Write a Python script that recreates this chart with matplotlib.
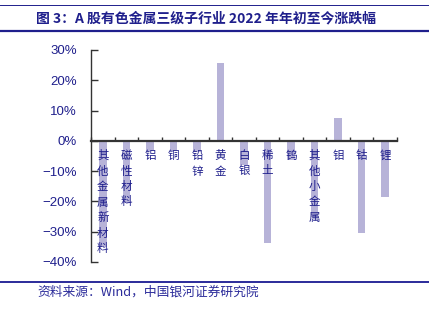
import matplotlib
matplotlib.use("Agg")
import matplotlib.pyplot as plt
from matplotlib.lines import Line2D
import matplotlib.transforms as mtransforms

categories = ["其他金属新材料", "磁性材料", "铝", "铜", "铅锌", "黄金", "白银",
              "稀土", "钨", "其他小金属", "钼", "钴", "锂"]
values = [-35.0, -20.5, -3.5, -3.3, -3.8, 25.8, -8.0, -33.8, -6.3, -25.0, 7.6, -30.5, -18.7]
yticks = [30, 20, 10, 0, -10, -20, -30, -40]
ytick_labels = ["30%", "20%", "10%", "0%", "−10%", "−20%", "−30%", "−40%"]
title = "图 3：A 股有色金属三级子行业 2022 年年初至今涨跌幅"
source = "资料来源：Wind，中国银河证券研究院"

plt.rcParams['font.family'] = ['Noto Sans CJK SC', 'DejaVu Sans']
navy = "#1f1f8c"
bar_color = "#b7b3d8"

fig = plt.figure(figsize=(4.29, 3.11), dpi=100)
ax = fig.add_axes([91/429, 1-262/311, (397-91)/429, (262-50)/311])

x = list(range(len(categories)))
ax.bar(x, values, width=0.32, color=bar_color, zorder=2)
ax.set_xlim(-0.5, len(categories) - 0.5)
ax.set_ylim(-40, 30)

ax.set_yticks(yticks)
ax.set_yticklabels(ytick_labels, fontfamily=['Liberation Sans'], fontsize=9.5, color=navy)
ax.tick_params(axis='y', direction='in', length=5, width=1, color="#333333", pad=10)

ax.set_xticks([i + 0.5 for i in range(-1, len(categories))], minor=False)
ax.set_xticklabels([])
ax.tick_params(axis='x', direction='in', length=3, width=1, color="#333333")

for s in ['top', 'right']:
    ax.spines[s].set_visible(False)
ax.spines['left'].set_color("#333333")
ax.spines['left'].set_linewidth(1)
ax.spines['bottom'].set_position(('data', 0))
ax.spines['bottom'].set_color("#333333")
ax.spines['bottom'].set_linewidth(1.6)
ax.spines['bottom'].set_zorder(3)

trans = mtransforms.blended_transform_factory(ax.transData, fig.transFigure)
for i, lab in enumerate(categories):
    ax.text(i, 1 - 149/311, "\n".join(lab), transform=trans, ha='center', va='top',
            fontsize=8.3, color=navy, linespacing=1.25, zorder=4)

# header/footer
fig.add_artist(Line2D([0, 1], [1 - 5/311, 1 - 5/311], color=navy, lw=0.7))
fig.add_artist(Line2D([0, 1], [1 - 30.5/311, 1 - 30.5/311], color=navy, lw=1.6))
fig.add_artist(Line2D([0, 1], [1 - 281.5/311, 1 - 281.5/311], color="#2b2b9a", lw=1.4))
fig.text(36/429, 1 - 18.5/311, title, ha='left', va='center', fontsize=10,
         fontweight='bold', color=navy)
fig.text(37/429, 1 - 292/311, source, ha='left', va='center', fontsize=9.2,
         style='italic', color="#2b2b9a")

fig.savefig("out.png", dpi=100)
